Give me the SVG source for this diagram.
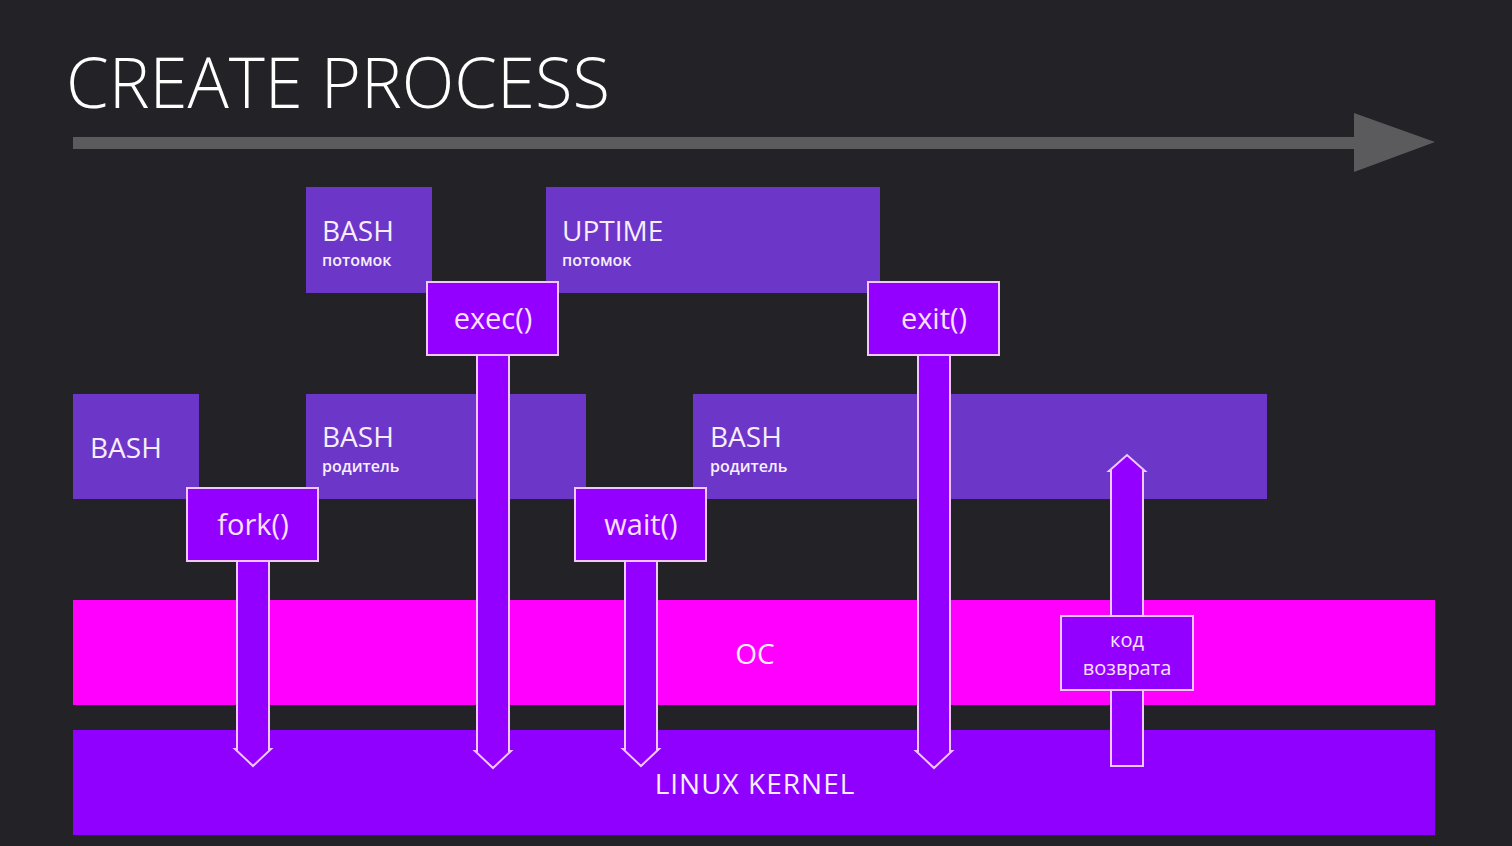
<svg xmlns="http://www.w3.org/2000/svg" width="1512" height="846" viewBox="0 0 1512 846">
<style>
.proc{fill:#6c36c9}
.fn{fill:#9400ff;stroke:#f2c6ff;stroke-width:2}
.arr{fill:#9400ff;stroke:#f2c6ff;stroke-width:2;stroke-linejoin:miter}
.t{font-family:"Open Sans","Noto Sans",sans-serif;fill:#f6eeff;font-weight:500}
.big{font-size:28px}
.sm{font-size:16px;font-weight:600}
.ft{font-family:"Open Sans","Noto Sans",sans-serif;fill:#fbe0ff;font-size:29px;font-weight:500;text-anchor:middle}
.code{font-family:"Open Sans","Noto Sans",sans-serif;fill:#fbe0ff;font-size:20px;font-weight:500;text-anchor:middle}
</style>
<rect width="1512" height="846" fill="#232227"/>
<text x="66" y="108" font-family="Open Sans, Noto Sans, sans-serif" font-weight="300" font-size="70" fill="#ffffff" textLength="544" lengthAdjust="spacingAndGlyphs">CREATE PROCESS</text>
<g id="timeline">
<polygon points="73,137 1354,137 1354,113 1435,142 1354,172 1354,149 73,149" fill="#5b5b5d"/>
</g>
<g id="bash-child"><rect class="proc" x="306" y="187" width="126" height="106"/><text class="t big" x="322" y="241">BASH</text><text class="t sm" x="322" y="266">потомок</text></g>
<g id="uptime"><rect class="proc" x="546" y="187" width="334" height="106"/><text class="t big" x="562" y="241">UPTIME</text><text class="t sm" x="562" y="266">потомок</text></g>
<g id="bash"><rect class="proc" x="73" y="394" width="126" height="105"/><text class="t big" x="90" y="458">BASH</text></g>
<g id="bash-parent-1"><rect class="proc" x="306" y="394" width="280" height="105"/><text class="t big" x="322" y="447">BASH</text><text class="t sm" x="322" y="472">родитель</text></g>
<g id="bash-parent-2"><rect class="proc" x="693" y="394" width="574" height="105"/><text class="t big" x="710" y="447">BASH</text><text class="t sm" x="710" y="472">родитель</text></g>
<g id="os"><rect x="73" y="600" width="1362" height="105" fill="#ff00ff"/><text class="t big" x="755" y="664" text-anchor="middle">OC</text></g>
<g id="kernel"><rect x="73" y="730" width="1362" height="105" fill="#9000ff"/><text class="t big" x="755" y="794" text-anchor="middle" letter-spacing="1">LINUX KERNEL</text></g>
<g id="connectors">
<polygon class="arr" points="237,561 269,561 269,749 271,749 253,766 235,749 237,749"/>
<polygon class="arr" points="477,355 509,355 509,751 511,751 493,768 475,751 477,751"/>
<polygon class="arr" points="625,561 657,561 657,749 659,749 641,766 623,749 625,749"/>
<polygon class="arr" points="918,355 950,355 950,751 952,751 934,768 916,751 918,751"/>
<polygon class="arr" points="1111,766 1143,766 1143,471 1145,471 1127,455 1109,471 1111,471"/>
</g>
<g id="fork"><rect class="fn" x="187" y="488" width="131" height="73"/><text class="ft" x="253" y="535">fork()</text></g>
<g id="exec"><rect class="fn" x="427" y="282" width="131" height="73"/><text class="ft" x="493" y="329">exec()</text></g>
<g id="wait"><rect class="fn" x="575" y="488" width="131" height="73"/><text class="ft" x="641" y="535">wait()</text></g>
<g id="exit"><rect class="fn" x="868" y="282" width="131" height="73"/><text class="ft" x="934" y="329">exit()</text></g>
<g id="return-code"><rect class="fn" x="1061" y="616" width="132" height="74"/><text class="code" x="1127" y="647">код</text><text class="code" x="1127" y="675">возврата</text></g>
</svg>
